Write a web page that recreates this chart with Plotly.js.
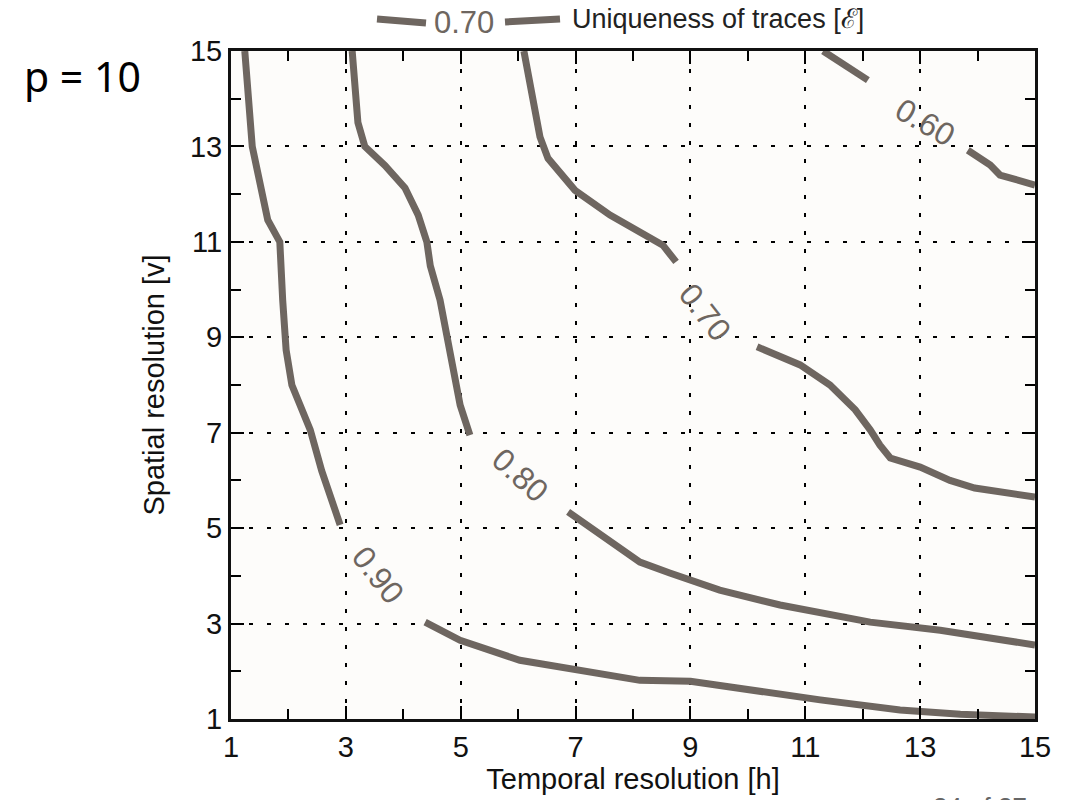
<!DOCTYPE html>
<html><head><meta charset="utf-8">
<script src="https://cdn.plot.ly/plotly-3.0.1.min.js"></script>
<style>html,body{margin:0;padding:0;background:#fff;}#chart{width:1071px;height:800px;}</style>
</head><body><div id="chart"></div>
<script>
// Contour level values
const levels = ['0.90', '0.80', '0.70', '0.60'];
// Contour 0.90 (null = gap where the label sits)
const x090 = [1.24, 1.37, 1.64, 1.85, 1.90, 1.96, 2.06, 2.38, 2.58, 2.90, null, 4.38, 4.99, 6.03, 6.73, 8.12, 9.00, 10.04, 11.26, 12.65, 13.70, 15.00];
const y090 = [15.0, 13.0, 11.46, 11.0, 9.78, 8.73, 8.0, 7.06, 6.2, 5.07, null, 3.03, 2.65, 2.23, 2.1, 1.81, 1.79, 1.6, 1.4, 1.19, 1.1, 1.04];
// Contour 0.80
const x080 = [3.11, 3.21, 3.33, 3.68, 4.03, 4.26, 4.41, 4.47, 4.64, 4.81, 4.90, 4.99, 5.16, null, 6.87, 7.43, 8.12, 8.64, 9.51, 10.56, 11.26, 12.13, 13.35, 14.39, 15.00];
const y080 = [15.0, 13.5, 13.0, 12.6, 12.13, 11.56, 11.0, 10.5, 9.78, 8.73, 8.0, 7.58, 6.95, null, 5.34, 4.86, 4.29, 4.06, 3.7, 3.39, 3.22, 3.03, 2.86, 2.65, 2.55];
// Contour 0.70
const x070 = [6.10, 6.24, 6.38, 6.52, 6.99, 7.60, 8.12, 8.52, 8.75, null, 10.16, 10.91, 11.43, 11.87, 12.13, 12.30, 12.48, 13.00, 13.52, 13.95, 15.00];
const y070 = [15.0, 14.18, 13.2, 12.75, 12.08, 11.56, 11.2, 10.93, 10.58, null, 8.8, 8.42, 8.0, 7.48, 7.06, 6.74, 6.47, 6.28, 6.0, 5.84, 5.65];
// Contour 0.60
const x060 = [11.31, 12.09, null, 13.83, 14.22, 14.39, 15.00];
const y060 = [15.0, 14.39, null, 12.92, 12.61, 12.4, 12.19];
// Inline label positions and angles
const labelX = [3.56, 6.03, 9.25, 13.08];
const labelY = [4.02, 6.11, 9.53, 13.51];
const labelAngle = [52, 42, 52, 30];
const ticks = [1, 3, 5, 7, 9, 11, 13, 15];

const lineColor = '#6e6660';
const FONT = 'Liberation Sans, Arial, Helvetica, sans-serif';
const series = [[x090, y090], [x080, y080], [x070, y070], [x060, y060]];
const data = series.map((s, i) => ({
  x: s[0], y: s[1], type: 'scatter', mode: 'lines', name: levels[i],
  line: {color: lineColor, width: 7}, connectgaps: false, showlegend: false, hoverinfo: 'skip'
}));

const annotations = levels.map((lv, i) => ({
  x: labelX[i], y: labelY[i], xref: 'x', yref: 'y', text: lv, showarrow: false,
  textangle: labelAngle[i], font: {family: FONT, size: 32, color: lineColor}
}));
annotations.push(
  {xref: 'paper', yref: 'paper', x: (464 - 231) / 804, y: (719 - 22) / 668, xanchor: 'center', yanchor: 'middle', text: '0.70', showarrow: false,
   font: {family: FONT, size: 31, color: lineColor}},
  {xref: 'paper', yref: 'paper', x: (570 - 231) / 804, y: (719 - 19) / 668, xanchor: 'left', yanchor: 'middle', text: 'Uniqueness of traces [ℰ]', showarrow: false,
   font: {family: FONT, size: 27, color: '#222'}},
  {xref: 'paper', yref: 'paper', x: (22 - 231) / 804, y: (719 - 76) / 668, xanchor: 'left', yanchor: 'middle', text: 'p = 10', showarrow: false,
   font: {family: 'Noto Sans, Open Sans, sans-serif', size: 41, color: '#000'}},
  {xref: 'paper', yref: 'paper', x: (980 - 231) / 804, y: (719 - 790) / 668, xanchor: 'center', yanchor: 'top', text: '24 of 27', showarrow: false,
   font: {family: FONT, size: 26, color: '#666'}}
);

const shapes = [
  {type: 'line', xref: 'paper', yref: 'paper', x0: (377 - 231) / 804, x1: (426 - 231) / 804, y0: (719 - 19) / 668, y1: (719 - 23) / 668,
   line: {color: lineColor, width: 7}},
  {type: 'line', xref: 'paper', yref: 'paper', x0: (505 - 231) / 804, x1: (560 - 231) / 804, y0: (719 - 22) / 668, y1: (719 - 19) / 668,
   line: {color: lineColor, width: 7}}
];

const axisCommon = {
  range: [1, 15], tickvals: ticks, ticktext: ticks.map(String),
  ticks: 'inside', ticklen: 13, tickwidth: 2, tickcolor: '#000',
  showline: true, linewidth: 3, linecolor: '#111', mirror: 'ticks',
  showgrid: true, gridcolor: '#000', gridwidth: 2, griddash: '4px,14px',
  zeroline: false, tickfont: {family: FONT, size: 29, color: '#111'},
  minor: {dtick: 2, tick0: 2, ticks: 'inside', ticklen: 10, tickwidth: 2, tickcolor: '#000', showgrid: false}
};

const layout = {
  width: 1071, height: 800,
  margin: {l: 231, r: 36, t: 51, b: 81},
  paper_bgcolor: '#ffffff', plot_bgcolor: '#fdfcfa',
  showlegend: false,
  xaxis: Object.assign({}, axisCommon, {
    title: {text: 'Temporal resolution [h]', font: {family: FONT, size: 29, color: '#111'}, standoff: 6}
  }),
  yaxis: Object.assign({}, axisCommon, {
    title: {text: 'Spatial resolution [v]', font: {family: FONT, size: 29, color: '#111'}, standoff: 17}
  }),
  annotations: annotations, shapes: shapes
};

Plotly.newPlot('chart', data, layout, {staticPlot: true});
</script></body></html>
